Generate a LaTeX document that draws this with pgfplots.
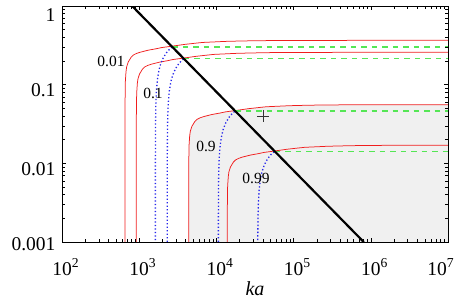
\documentclass[border=0pt]{standalone}
\usepackage{pgfplots}
\pgfplotsset{compat=1.18}
\usepackage{pgfplotstable}
\usepackage{fontspec}
\setmainfont{Liberation Serif}
\definecolor{lgreen}{RGB}{85,230,85}
\definecolor{lgray}{RGB}{240,240,240}
\definecolor{myred}{RGB}{240,30,30}
\definecolor{myblue}{RGB}{40,40,235}

\pgfplotstableread{
x y
655 0.000366
655.7 0.0586
661.6 0.1098
674.7 0.1464
687.8 0.1684
720.5 0.1940
786 0.2233
838.4 0.2379
917 0.2489
1021.8 0.2580
1310 0.2745
1637.5 0.2855
1965 0.2965
2751 0.3100
3930 0.3257
6550 0.3440
13100 0.3550
19650 0.3587
32750 0.3623
65500 0.3642
655000 0.366
10000000 0.366
}\redA
\pgfplotstableread{
x y
918 0.000258
918.9 0.0413
927.2 0.0774
945.5 0.1032
963.9 0.1187
1009.8 0.1367
1101.6 0.1574
1175 0.1677
1285.2 0.1754
1432.1 0.1819
1836 0.1935
2295 0.2012
2754 0.2090
3855.6 0.2185
5508 0.2296
9180 0.2425
18360 0.2503
27540 0.2528
45900 0.2554
91800 0.2567
918000 0.258
10000000 0.258
}\redB
\pgfplotstableread{
x y
4375 0.0000557
4379.4 0.00891
4418.8 0.01671
4506.3 0.02228
4593.8 0.02562
4812.5 0.02952
5250 0.03398
5600 0.03621
6125 0.03788
6825 0.03927
8750 0.04178
10937.5 0.04345
13125 0.04512
18375 0.04718
26250 0.04957
43750 0.05236
87500 0.05403
131250 0.05459
218750 0.05514
437500 0.05542
4375000 0.0557
10000000 0.0557
}\redC
\pgfplotstableread{
x y
13840 0.000017
13853.8 0.00272
13978.4 0.0051
14255.2 0.0068
14532 0.00782
15224 0.00901
16608 0.01037
17715.2 0.01105
19376 0.01156
21590.4 0.01199
27680 0.01275
34600 0.01326
41520 0.01377
58128 0.0144
83040 0.01513
138400 0.01598
276800 0.01649
415200 0.01666
692000 0.01683
1384000 0.01692
10000000 0.017
}\redD
\pgfplotstableread{
x y
4375 0.0005
4375 0.0000557
4379.4 0.00891
4418.8 0.01671
4506.3 0.02228
4593.8 0.02562
4812.5 0.02952
5250 0.03398
5600 0.03621
6125 0.03788
6825 0.03927
8750 0.04178
10937.5 0.04345
13125 0.04512
18375 0.04718
26250 0.04957
43750 0.05236
87500 0.05403
131250 0.05459
218750 0.05514
437500 0.05542
4375000 0.0557
10000000 0.0557
10000000 0.0005
}\grayfill
\pgfplotstableread{
x y
1620 0.0001
1621 0.01192
1625 0.02663
1640 0.0530
1670 0.0831
1720 0.1157
1800 0.1518
1900 0.1843
2050 0.2198
2250 0.2540
2450 0.2794
2682 0.302
}\blueA
\pgfplotstableread{
x y
2310 0.00007
2311.5 0.00873
2318 0.02014
2340 0.0388
2380 0.0588
2450 0.0819
2560 0.1071
2700 0.1303
2950 0.1597
3250 0.1844
3500 0.1999
3785 0.214
}\blueB
\pgfplotstableread{
x y
10600 0.00001
10607 0.001895
10630 0.003918
10700 0.00713
10850 0.01120
11100 0.01565
11500 0.02063
12200 0.02671
13300 0.03323
14700 0.03895
16000 0.04284
17495 0.0463
}\blueC
\pgfplotstableread{
x y
34300 0.000001
34320 0.000546
34400 0.00122
34600 0.002107
35000 0.0032
35800 0.004632
37000 0.006113
39000 0.007856
42000 0.00969
46000 0.01141
51000 0.01295
56842 0.01425
}\blueD

\begin{document}
\begin{tikzpicture}
\useasboundingbox (-62pt,-56pt) rectangle (395pt,242pt);
\begin{axis}[
  at={(0,0)}, anchor=south west,
  scale only axis,
  width=386pt, height=236pt,
  xmode=log, ymode=log,
  xmin=100, xmax=10000000,
  ymin=0.001, ymax=1,
  axis on top,
  xtick={100,1000,10000,100000,1000000,10000000},
  xticklabels={10\rlap{\textsuperscript{2}},10\rlap{\textsuperscript{3}},10\rlap{\textsuperscript{4}},10\rlap{\textsuperscript{5}},10\rlap{\textsuperscript{6}},\kern-22pt 10\rlap{\textsuperscript{7}}},
  ytick={0.001,0.01,0.1,1},
  yticklabels={\raisebox{4pt}{0.001},0.01,0.1,\raisebox{-3.5pt}{1}},
  tick label style={font=\fontsize{19.5}{22}\selectfont},
  xticklabel style={anchor=base, yshift=-33pt},
  yticklabel style={anchor=base east, yshift=-12pt, xshift=-3pt},
  axis line style={line width=0.6pt},
  tick style={line width=0.5pt, black},
  xlabel={\textit{ka}},
  xlabel style={font=\fontsize{20}{22}\selectfont, at={(axis description cs:0.5,0)}, anchor=base, yshift=-53pt},
]
\addplot[draw=none, fill=lgray] table {\grayfill};
\addplot[myred, line width=0.75pt] table {\redA};
\addplot[myred, line width=0.75pt] table {\redB};
\addplot[myred, line width=0.75pt] table {\redC};
\addplot[myred, line width=0.75pt] table {\redD};
\addplot[myblue, line width=1.3pt, dash pattern=on 1.3pt off 2.2pt] table {\blueA};
\addplot[myblue, line width=1.3pt, dash pattern=on 1.3pt off 2.2pt] table {\blueB};
\addplot[myblue, line width=1.3pt, dash pattern=on 1.3pt off 2.2pt] table {\blueC};
\addplot[myblue, line width=1.3pt, dash pattern=on 1.3pt off 2.2pt] table {\blueD};
\addplot[lgreen, line width=1.3pt, dash pattern=on 5.5pt off 5pt] coordinates {(2682,0.302) (10000000,0.302)};
\addplot[lgreen, line width=1.3pt, dash pattern=on 5.5pt off 5pt] coordinates {(3785,0.214) (10000000,0.214)};
\addplot[lgreen, line width=1.3pt, dash pattern=on 5.5pt off 5pt] coordinates {(17495,0.0463) (10000000,0.0463)};
\addplot[lgreen, line width=1.3pt, dash pattern=on 5.5pt off 5pt] coordinates {(56842,0.01425) (10000000,0.01425)};
\addplot[black, line width=2.2pt] coordinates {(810,1) (810000,0.001)};
\addplot[black!80, only marks, mark=+, mark size=6pt, mark options={line width=0.7pt}] coordinates {(40200,0.040)};
\node[font=\fontsize{15.5}{18}\selectfont] at (axis cs:431,0.2) {0.01};
\node[font=\fontsize{15.5}{18}\selectfont] at (axis cs:1510,0.0773) {0.1};
\node[font=\fontsize{15.5}{18}\selectfont] at (axis cs:7330,0.0164) {0.9};
\node[font=\fontsize{15.5}{18}\selectfont] at (axis cs:32600,0.00643) {0.99};
\node[font=\fontsize{22}{24}\selectfont] at (rel axis cs:-0.13,0.915) {δ};
\end{axis}
\end{tikzpicture}
\end{document}
